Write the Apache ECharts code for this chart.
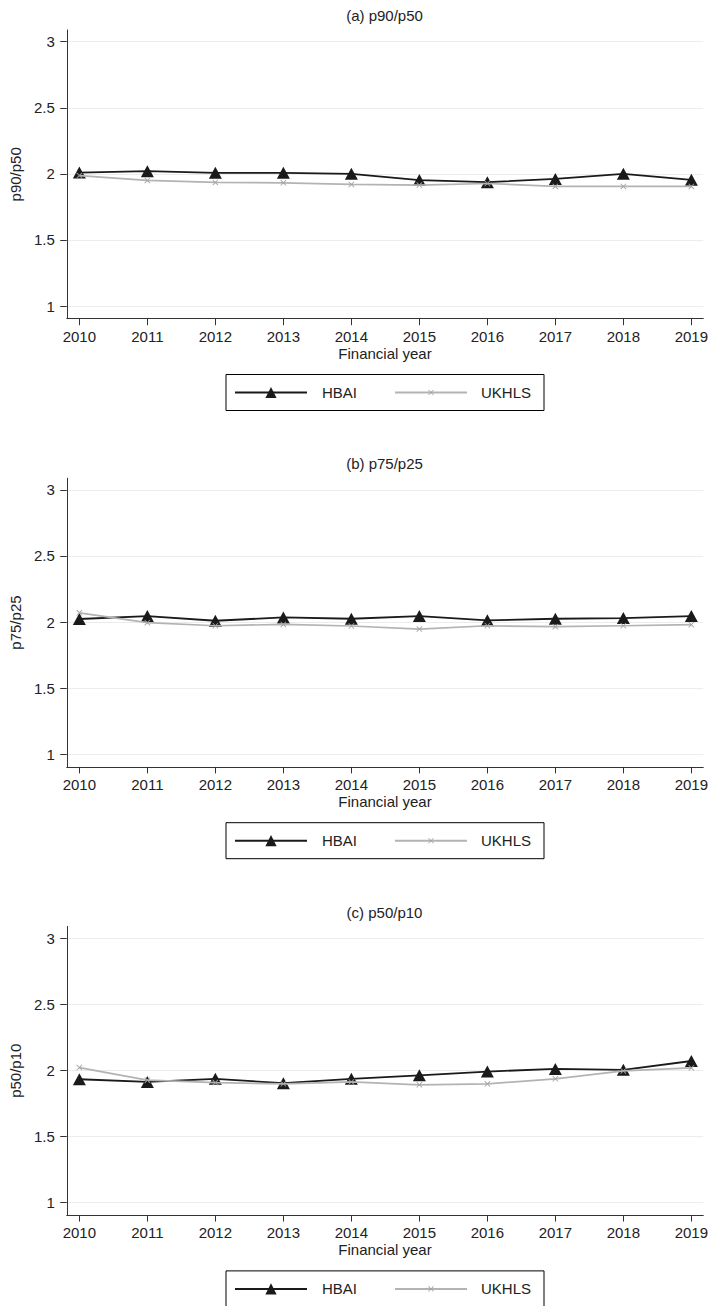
<!DOCTYPE html>
<html>
<head>
<meta charset="utf-8">
<title>Income ratios: HBAI vs UKHLS</title>
<script src="https://cdn.jsdelivr.net/npm/echarts@6/dist/echarts.min.js"></script>
<style>
  html, body { margin: 0; padding: 0; background: #fff; }
  #chart { width: 711px; height: 1306px; }
</style>
</head>
<body>
<div id="chart"></div>
<script>
// Financial years on the horizontal axis
const years = [2010, 2011, 2012, 2013, 2014, 2015, 2016, 2017, 2018, 2019];
const yTicks = [1, 1.5, 2, 2.5, 3];

// (a) p90/p50
const p90p50_HBAI  = [2.01, 2.02, 2.008, 2.008, 2.0, 1.953, 1.937, 1.962, 2.0, 1.955];
const p90p50_UKHLS = [1.987, 1.95, 1.935, 1.932, 1.92, 1.915, 1.927, 1.905, 1.905, 1.905];
// (b) p75/p25
const p75p25_HBAI  = [2.023, 2.045, 2.01, 2.035, 2.025, 2.045, 2.013, 2.025, 2.03, 2.045];
const p75p25_UKHLS = [2.07, 1.995, 1.972, 1.982, 1.97, 1.947, 1.972, 1.965, 1.972, 1.98];
// (c) p50/p10
const p50p10_HBAI  = [1.932, 1.912, 1.935, 1.902, 1.935, 1.962, 1.99, 2.01, 2.003, 2.07];
const p50p10_UKHLS = [2.02, 1.925, 1.907, 1.897, 1.912, 1.89, 1.897, 1.935, 1.995, 2.018];

const panels = [
  { title: '(a) p90/p50', yName: 'p90/p50', hbai: p90p50_HBAI, ukhls: p90p50_UKHLS },
  { title: '(b) p75/p25', yName: 'p75/p25', hbai: p75p25_HBAI, ukhls: p75p25_UKHLS },
  { title: '(c) p50/p10', yName: 'p50/p10', hbai: p50p10_HBAI, ukhls: p50p10_UKHLS }
];

const FONT = '"Liberation Sans", Arial, Helvetica, sans-serif';
const TEXT = '#222';
const DARK = '#1a1a1a';
const GREY_LINE = '#b3b3b3';
const GREY_MARK = '#a3a3a3';
const X_MARK = 'path://M0,1L1,0L10,9L9,10ZM9,0L10,1L1,10L0,9Z';

// Layout of each panel
const PANEL_STEP = 448.2;
const PLOT_TOP = 30;
const PLOT_H = 288.7;
const PLOT_LEFT = 64;
const PLOT_W = 641;

const grid = [], xAxis = [], yAxis = [], series = [], legend = [], graphic = [];

panels.forEach((p, i) => {
  const top = PLOT_TOP + i * PANEL_STEP;
  grid.push({ left: PLOT_LEFT, top: top, width: PLOT_W, height: PLOT_H, containLabel: false });

  xAxis.push({
    gridIndex: i,
    type: 'value',
    min: 2009.8145,
    max: 2019.175,
    name: 'Financial year',
    nameLocation: 'middle',
    nameGap: 27,
    nameTextStyle: { fontFamily: FONT, fontSize: 15, color: TEXT },
    axisLine: { show: true, onZero: false, lineStyle: { color: '#333', width: 1 } },
    axisTick: { show: true, length: 6.5, customValues: years, lineStyle: { color: '#333', width: 1 } },
    axisLabel: {
      customValues: years, margin: 10,
      fontFamily: FONT, fontSize: 15, color: TEXT,
      formatter: v => String(v)
    },
    splitLine: { show: false }
  });

  yAxis.push({
    gridIndex: i,
    type: 'value',
    min: 0.904,
    max: 3.0885,
    name: p.yName,
    nameLocation: 'middle',
    nameGap: 40,
    nameTextStyle: { fontFamily: FONT, fontSize: 15, color: TEXT },
    axisLine: { show: true, onZero: false, lineStyle: { color: '#333', width: 1 } },
    axisTick: { show: true, length: 6.5, customValues: yTicks, lineStyle: { color: '#333', width: 1 } },
    axisLabel: {
      customValues: yTicks, margin: 12,
      fontFamily: FONT, fontSize: 15, color: TEXT,
      formatter: v => String(v)
    },
    splitLine: { show: true, lineStyle: { color: '#ececec', width: 1 } }
  });

  series.push({
    name: 'HBAI',
    type: 'line',
    xAxisIndex: i, yAxisIndex: i,
    data: years.map((y, k) => [y, p.hbai[k]]),
    symbol: 'triangle',
    symbolSize: [13, 12],
    showAllSymbol: true,
    lineStyle: { color: DARK, width: 1.8 },
    itemStyle: { color: DARK },
    emphasis: { disabled: true },
    z: 2
  });
  series.push({
    name: 'UKHLS',
    type: 'line',
    xAxisIndex: i, yAxisIndex: i,
    data: years.map((y, k) => [y, p.ukhls[k]]),
    symbol: X_MARK,
    symbolSize: 6,
    showAllSymbol: true,
    lineStyle: { color: GREY_LINE, width: 1.7 },
    itemStyle: { color: GREY_MARK },
    emphasis: { disabled: true },
    z: 3
  });

  // Panel title, centred over the plot area
  graphic.push({
    type: 'text',
    x: PLOT_LEFT + PLOT_W / 2,
    y: 15.7 + i * PANEL_STEP,
    style: {
      text: p.title,
      font: '15px ' + FONT,
      fill: TEXT,
      textAlign: 'center',
      textVerticalAlign: 'middle'
    }
  });

  // Legend: boxed, HBAI on the left, UKHLS on the right
  const legendTop = 374.5 + i * PANEL_STEP;
  const legendMid = legendTop + 10.5 + 7;
  legend.push({
    data: ['HBAI'],
    left: 226,
    top: legendTop,
    orient: 'horizontal',
    padding: [10.5, 182, 10.5, 8],
    itemWidth: 72,
    itemHeight: 14,
    borderColor: '#000',
    borderWidth: 1,
    selectedMode: false,
    textStyle: { fontFamily: FONT, fontSize: 15, color: TEXT, lineHeight: 14, width: 40, padding: [0, 0, 0, 10] }
  });
  legend.push({
    data: ['UKHLS'],
    left: 394,
    top: legendMid - 7,
    orient: 'horizontal',
    padding: 0,
    itemWidth: 72,
    itemHeight: 7,
    selectedMode: false,
    textStyle: { fontFamily: FONT, fontSize: 15, color: TEXT, lineHeight: 14, padding: [0, 0, 0, 9] }
  });
});

const chart = echarts.init(document.getElementById('chart'), null, { renderer: 'svg' });
chart.setOption({
  backgroundColor: '#fff',
  animation: false,
  textStyle: { fontFamily: FONT },
  grid, xAxis, yAxis, series, legend, graphic
});
</script>
</body>
</html>
